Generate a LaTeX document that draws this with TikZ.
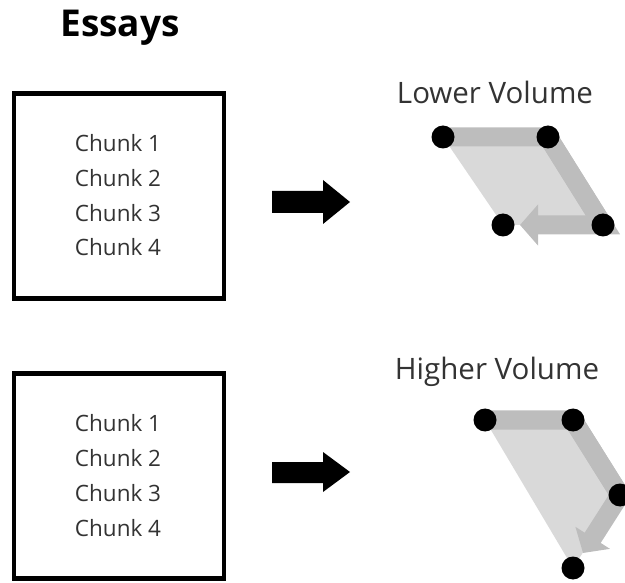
\documentclass[tikz,border=0pt]{standalone}
\usepackage{fontspec}
\setmainfont{Open Sans}
\usetikzlibrary{arrows.meta}
\definecolor{txtgray}{HTML}{333333}
\definecolor{fillgray}{HTML}{D9D9D9}
\definecolor{strokegray}{HTML}{BDBDBD}
\tikzset{
  essaybox/.style={draw=black, line width=4.5pt, minimum width=210pt, minimum height=205pt, inner sep=0pt},
  chunk/.style={text=txtgray, font=\fontsize{22.5}{22.5}\selectfont, inner sep=0pt, anchor=center},
  voltitle/.style={text=txtgray, font=\fontsize{29.5}{29.5}\selectfont, inner sep=0pt},
  dot/.style={circle, fill=black, minimum size=23pt, inner sep=0pt},
  flow/.style={draw=strokegray, line width=19pt, line join=miter},
  flowarrow/.style={draw=strokegray, line width=19pt, -{Triangle[width=40pt,length=18pt]}},
}
\begin{document}
\begin{tikzpicture}[x=1pt, y=-1pt]
\useasboundingbox (0,0) rectangle (625,583);
% title
\node[font=\bfseries\fontsize{37}{37}\selectfont, inner sep=0pt] (title) at (120,28) {Essays};
% boxes
\node[essaybox] (box1) at (119,196) {};
\node[essaybox] (box2) at (119,476) {};
\foreach \i/\y in {1/143,2/178,3/213,4/247}{
  \node[chunk] (a\i) at (118,\y) {Chunk \i};
}
\foreach \i/\y in {1/423,2/458,3/493,4/528}{
  \node[chunk] (b\i) at (118,\y) {Chunk \i};
}
% black arrows
\fill (272,191) -- (323,191) -- (323,180) -- (350,202) -- (323,224) -- (323,213) -- (272,213) -- cycle;
\fill (272,462) -- (323,462) -- (323,452) -- (350,472) -- (323,492) -- (323,483) -- (272,483) -- cycle;
% lower volume
\node[voltitle] (lowt) at (495,92) {Lower Volume};
\coordinate (l1) at (443,137);
\coordinate (l2) at (548,137);
\coordinate (l3) at (603,225);
\coordinate (l4) at (503,225);
\coordinate (ltip) at (520,225);
\fill[fillgray] (l1) -- (l2) -- (l3) -- (l4) -- cycle;
\draw[flow] (l1) -- (l2) -- (l3);
\draw[flowarrow] (l2) -- (l3) -- (ltip);
\node[dot] (ld1) at (l1) {};
\node[dot] (ld2) at (l2) {};
\node[dot] (ld3) at (l3) {};
\node[dot] (ld4) at (l4) {};
% higher volume
\node[voltitle] (hight) at (497,372) {Higher Volume};
\coordinate (h1) at (485,420);
\coordinate (h2) at (573,420);
\coordinate (h3) at (620,495);
\coordinate (h4) at (573,568);
\coordinate (htip) at (583,553);
\fill[fillgray] (h1) -- (h2) -- (h3) -- (h4) -- cycle;
\draw[flow] (h1) -- (h2) -- (h3);
\draw[flowarrow] (h2) -- (h3) -- (htip);
\node[dot] (hd1) at (h1) {};
\node[dot] (hd2) at (h2) {};
\node[dot] (hd3) at (h3) {};
\node[dot] (hd4) at (h4) {};
\end{tikzpicture}
\end{document}
